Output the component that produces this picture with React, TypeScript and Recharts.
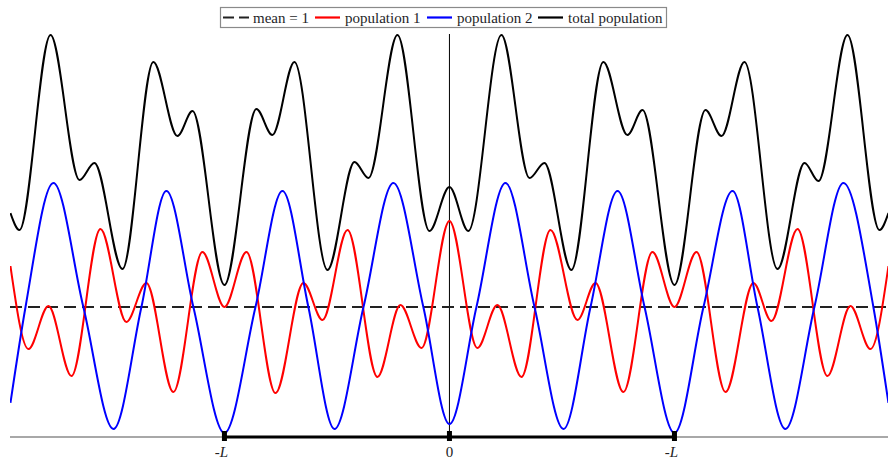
import React from 'react';
import { LineChart, Line, XAxis, YAxis, ReferenceLine } from 'recharts';

// x in units of L, y in population density units
const X_DOMAIN: [number, number] = [-1.953, 1.949];
const Y_DOMAIN: [number, number] = [0, 3.1];
const tickValues = [-1, 0, 1];
const tickLabels = ['-L', '0', '-L'];
const meanValue = 1;

const meanPoints: [number, number][] = [
  [-1.953, meanValue],
  [1.949, meanValue],
];

const population1Points: [number, number][] = [
  [-1.951, 1.315], [-1.871, 0.677], [-1.782, 1.008], [-1.68, 0.469], [-1.551, 1.6],
  [-1.436, 0.885], [-1.347, 1.185], [-1.227, 0.346], [-1.098, 1.423], [-1.0, 1.0],
  [-0.902, 1.423], [-0.773, 0.338], [-0.649, 1.185], [-0.564, 0.9], [-0.453, 1.592],
  [-0.32, 0.462], [-0.218, 1.015], [-0.124, 0.685], [0, 1.662], [0.124, 0.685],
  [0.213, 1.015], [0.32, 0.462], [0.449, 1.592], [0.569, 0.9], [0.649, 1.185],
  [0.773, 0.346], [0.902, 1.423], [1.0, 1.0], [1.098, 1.423], [1.227, 0.346],
  [1.351, 1.185], [1.431, 0.892], [1.547, 1.6], [1.68, 0.469], [1.782, 1.008],
  [1.871, 0.677], [1.951, 1.315],
];

const population2Points: [number, number][] = [
  [-1.951, 0.262], [-1.884, 1.0], [-1.76, 1.954], [-1.627, 1.0], [-1.493, 0.062],
  [-1.369, 1.0], [-1.258, 1.892], [-1.138, 1.0], [-1.0, 0.031], [-0.862, 1.0],
  [-0.742, 1.892], [-0.627, 1.0], [-0.511, 0.062], [-0.382, 1.0], [-0.249, 1.954],
  [-0.116, 1.0], [0, 0.1], [0.12, 1.0], [0.249, 1.954], [0.378, 1.0],
  [0.507, 0.062], [0.627, 1.0], [0.747, 1.892], [0.867, 1.0], [1.0, 0.031],
  [1.129, 1.0], [1.258, 1.892], [1.369, 1.0], [1.493, 0.062], [1.622, 1.0],
  [1.751, 1.954], [1.884, 1.0], [1.951, 0.262],
];

const totalPoints: [number, number][] = [
  [-1.951, 1.723], [-1.911, 1.592], [-1.773, 3.092], [-1.644, 1.977], [-1.578, 2.108],
  [-1.453, 1.292], [-1.316, 2.885], [-1.209, 2.315], [-1.142, 2.508], [-1.0, 1.169],
  [-0.858, 2.523], [-0.787, 2.323], [-0.689, 2.885], [-0.542, 1.285], [-0.422, 2.115],
  [-0.36, 1.992], [-0.231, 3.092], [-0.089, 1.585], [0, 1.923], [0.084, 1.585],
  [0.231, 3.092], [0.356, 1.992], [0.422, 2.108], [0.542, 1.285], [0.684, 2.885],
  [0.791, 2.323], [0.858, 2.515], [1.0, 1.169], [1.138, 2.515], [1.209, 2.315],
  [1.311, 2.885], [1.458, 1.292], [1.578, 2.108], [1.64, 1.969], [1.769, 3.092],
  [1.911, 1.592], [1.951, 1.723],
];

const legendItems = [
  { label: 'mean = 1', color: '#222', dashed: true },
  { label: 'population 1', color: '#ff0000', dashed: false },
  { label: 'population 2', color: '#0000ff', dashed: false },
  { label: 'total population', color: '#000000', dashed: false },
];

const toRows = (pts: [number, number][]) => pts.map(([x, y]) => ({ x, y }));

const SERIF = "'Liberation Serif', 'Times New Roman', serif";

function AxisTick(props: any) {
  const { x, payload } = props;
  const idx = tickValues.indexOf(payload.value);
  const label = idx >= 0 ? tickLabels[idx] : String(payload.value);
  const isNeg = label.startsWith('-');
  return (
    <g>
      <rect x={x - 2.5} y={431} width={5} height={10} fill="#000" />
      <text
        x={isNeg ? x - 3 : x}
        y={457}
        textAnchor="middle"
        style={{ fontFamily: SERIF }}
        fontSize={15}
        fill="#222"
      >
        {isNeg ? (
          <>
            <tspan>-</tspan>
            <tspan fontStyle="italic">{label.slice(1)}</tspan>
          </>
        ) : (
          label
        )}
      </text>
    </g>
  );
}

function LegendBox() {
  const lineXs = [223, 315, 427, 538];
  const textXs = [253, 345, 457, 568];
  return (
    <svg
      width={888}
      height={32}
      style={{ position: 'absolute', left: 0, top: 0, pointerEvents: 'none' }}
    >
      <rect x={220.5} y={7.5} width={446} height={20} fill="#fff" stroke="#8a8a8a" strokeWidth={1.2} />
      {legendItems.map((it, i) => (
        <g key={it.label}>
          {it.dashed ? (
            <line x1={lineXs[i]} y1={17.5} x2={lineXs[i] + 26} y2={17.5} stroke={it.color} strokeWidth={2} strokeDasharray="11 5" />
          ) : (
            <line x1={lineXs[i]} y1={17.5} x2={lineXs[i] + 25} y2={17.5} stroke={it.color} strokeWidth={2.2} />
          )}
          <text x={textXs[i]} y={22.5} style={{ fontFamily: SERIF }} fontSize={15} fill="#1e1e28">
            {it.label}
          </text>
        </g>
      ))}
    </svg>
  );
}

export default function App() {
  return (
    <div style={{ position: 'absolute', left: 0, top: 0, width: 888, height: 460, background: '#fff' }}>
      <LineChart width={888} height={460} margin={{ top: 34, right: 0, bottom: 0, left: 10 }}>
        <XAxis
          type="number"
          dataKey="x"
          domain={X_DOMAIN}
          allowDataOverflow
          ticks={tickValues}
          interval={0}
          height={23}
          axisLine={false}
          tickLine={false}
          tick={<AxisTick />}
        />
        <YAxis type="number" domain={Y_DOMAIN} hide allowDataOverflow />
        <ReferenceLine x={0} stroke="#000" strokeWidth={1} />
        <ReferenceLine y={0} stroke="#a8a8a8" strokeWidth={2} />
        <ReferenceLine
          segment={[{ x: -1, y: 0 }, { x: 1, y: 0 }]}
          stroke="#000"
          strokeWidth={3}
        />
        <Line
          data={toRows(meanPoints)}
          dataKey="y"
          type="linear"
          stroke="#222"
          strokeWidth={2}
          strokeDasharray="12 6"
          dot={false}
          isAnimationActive={false}
        />
        <Line
          data={toRows(population1Points)}
          dataKey="y"
          type="monotone"
          stroke="#ff0000"
          strokeWidth={2}
          dot={false}
          isAnimationActive={false}
        />
        <Line
          data={toRows(population2Points)}
          dataKey="y"
          type="monotone"
          stroke="#0000ff"
          strokeWidth={2}
          dot={false}
          isAnimationActive={false}
        />
        <Line
          data={toRows(totalPoints)}
          dataKey="y"
          type="monotone"
          stroke="#000000"
          strokeWidth={2}
          dot={false}
          isAnimationActive={false}
        />
      </LineChart>
      <LegendBox />
    </div>
  );
}
